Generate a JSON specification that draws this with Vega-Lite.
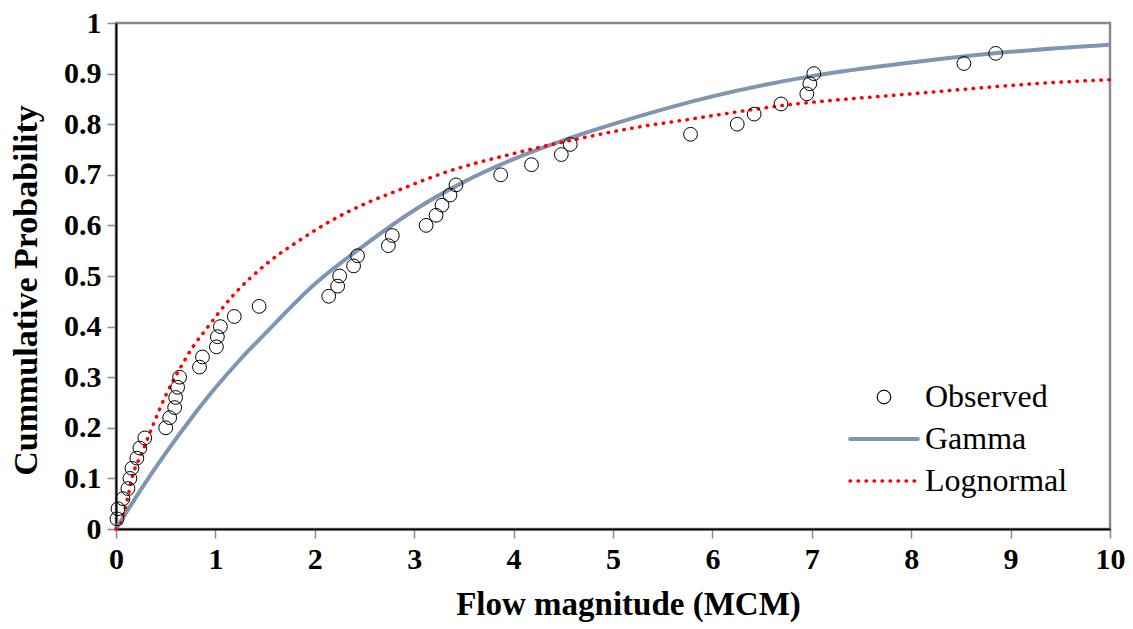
{
  "$schema": "https://vega.github.io/schema/vega-lite/v6.json",
  "width": 994,
  "height": 506,
  "autosize": {"type": "none"},
  "padding": {"left": 116, "top": 23, "right": 23, "bottom": 100},
  "background": "white",
  "config": {
    "view": {"stroke": "#8a8a8a", "strokeWidth": 2.5},
    "font": "Liberation Serif",
    "legend": {"labelFont": "Liberation Serif", "labelFontSize": 32, "labelColor": "black"}
  },
  "data": {
    "values": [
      {"series": "Observed", "x": 0.01, "y": 0.02},
      {"series": "Observed", "x": 0.02, "y": 0.04},
      {"series": "Observed", "x": 0.07, "y": 0.06},
      {"series": "Observed", "x": 0.12, "y": 0.08},
      {"series": "Observed", "x": 0.14, "y": 0.10},
      {"series": "Observed", "x": 0.16, "y": 0.12},
      {"series": "Observed", "x": 0.21, "y": 0.14},
      {"series": "Observed", "x": 0.24, "y": 0.16},
      {"series": "Observed", "x": 0.29, "y": 0.18},
      {"series": "Observed", "x": 0.50, "y": 0.20},
      {"series": "Observed", "x": 0.54, "y": 0.22},
      {"series": "Observed", "x": 0.59, "y": 0.24},
      {"series": "Observed", "x": 0.60, "y": 0.26},
      {"series": "Observed", "x": 0.62, "y": 0.28},
      {"series": "Observed", "x": 0.64, "y": 0.30},
      {"series": "Observed", "x": 0.84, "y": 0.32},
      {"series": "Observed", "x": 0.87, "y": 0.34},
      {"series": "Observed", "x": 1.01, "y": 0.36},
      {"series": "Observed", "x": 1.02, "y": 0.38},
      {"series": "Observed", "x": 1.05, "y": 0.40},
      {"series": "Observed", "x": 1.19, "y": 0.42},
      {"series": "Observed", "x": 1.44, "y": 0.44},
      {"series": "Observed", "x": 2.14, "y": 0.46},
      {"series": "Observed", "x": 2.23, "y": 0.48},
      {"series": "Observed", "x": 2.25, "y": 0.50},
      {"series": "Observed", "x": 2.39, "y": 0.52},
      {"series": "Observed", "x": 2.43, "y": 0.54},
      {"series": "Observed", "x": 2.74, "y": 0.56},
      {"series": "Observed", "x": 2.78, "y": 0.58},
      {"series": "Observed", "x": 3.12, "y": 0.60},
      {"series": "Observed", "x": 3.22, "y": 0.62},
      {"series": "Observed", "x": 3.28, "y": 0.64},
      {"series": "Observed", "x": 3.36, "y": 0.66},
      {"series": "Observed", "x": 3.42, "y": 0.68},
      {"series": "Observed", "x": 3.87, "y": 0.70},
      {"series": "Observed", "x": 4.18, "y": 0.72},
      {"series": "Observed", "x": 4.48, "y": 0.74},
      {"series": "Observed", "x": 4.57, "y": 0.76},
      {"series": "Observed", "x": 5.78, "y": 0.78},
      {"series": "Observed", "x": 6.25, "y": 0.80},
      {"series": "Observed", "x": 6.42, "y": 0.82},
      {"series": "Observed", "x": 6.69, "y": 0.84},
      {"series": "Observed", "x": 6.95, "y": 0.86},
      {"series": "Observed", "x": 6.98, "y": 0.88},
      {"series": "Observed", "x": 7.02, "y": 0.90},
      {"series": "Observed", "x": 8.53, "y": 0.92},
      {"series": "Observed", "x": 8.85, "y": 0.94},

      {"series": "Gamma", "x": 0, "y": 0},
      {"series": "Gamma", "x": 0.25, "y": 0.078},
      {"series": "Gamma", "x": 0.5, "y": 0.150},
      {"series": "Gamma", "x": 0.75, "y": 0.217},
      {"series": "Gamma", "x": 1, "y": 0.279},
      {"series": "Gamma", "x": 1.25, "y": 0.335},
      {"series": "Gamma", "x": 1.5, "y": 0.386},
      {"series": "Gamma", "x": 2, "y": 0.484},
      {"series": "Gamma", "x": 2.5, "y": 0.561},
      {"series": "Gamma", "x": 3, "y": 0.630},
      {"series": "Gamma", "x": 3.5, "y": 0.686},
      {"series": "Gamma", "x": 4, "y": 0.731},
      {"series": "Gamma", "x": 4.5, "y": 0.768},
      {"series": "Gamma", "x": 5, "y": 0.80},
      {"series": "Gamma", "x": 6, "y": 0.855},
      {"series": "Gamma", "x": 7, "y": 0.895},
      {"series": "Gamma", "x": 8, "y": 0.922},
      {"series": "Gamma", "x": 9, "y": 0.943},
      {"series": "Gamma", "x": 10, "y": 0.957},

      {"series": "Lognormal", "x": 0, "y": 0},
      {"series": "Lognormal", "x": 0.05, "y": 0.012},
      {"series": "Lognormal", "x": 0.074, "y": 0.028},
      {"series": "Lognormal", "x": 0.114, "y": 0.058},
      {"series": "Lognormal", "x": 0.164, "y": 0.103},
      {"series": "Lognormal", "x": 0.26, "y": 0.15},
      {"series": "Lognormal", "x": 0.38, "y": 0.209},
      {"series": "Lognormal", "x": 0.51, "y": 0.268},
      {"series": "Lognormal", "x": 0.66, "y": 0.323},
      {"series": "Lognormal", "x": 0.78, "y": 0.362},
      {"series": "Lognormal", "x": 0.88, "y": 0.388},
      {"series": "Lognormal", "x": 1.18, "y": 0.462},
      {"series": "Lognormal", "x": 1.52, "y": 0.525},
      {"series": "Lognormal", "x": 1.85, "y": 0.571},
      {"series": "Lognormal", "x": 2.19, "y": 0.612},
      {"series": "Lognormal", "x": 2.52, "y": 0.644},
      {"series": "Lognormal", "x": 2.81, "y": 0.667},
      {"series": "Lognormal", "x": 3.33, "y": 0.706},
      {"series": "Lognormal", "x": 4.0, "y": 0.742},
      {"series": "Lognormal", "x": 4.67, "y": 0.772},
      {"series": "Lognormal", "x": 5.37, "y": 0.798},
      {"series": "Lognormal", "x": 5.61, "y": 0.805},
      {"series": "Lognormal", "x": 6.71, "y": 0.837},
      {"series": "Lognormal", "x": 8.06, "y": 0.861},
      {"series": "Lognormal", "x": 9.4, "y": 0.882},
      {"series": "Lognormal", "x": 10, "y": 0.888}
    ]
  },
  "encoding": {
    "x": {
      "field": "x", "type": "quantitative",
      "scale": {"domain": [0, 10], "nice": false},
      "axis": {
        "title": "Flow magnitude (MCM)",
        "values": [0, 1, 2, 3, 4, 5, 6, 7, 8, 9, 10],
        "format": "d",
        "grid": false,
        "domainColor": "black", "domainWidth": 2,
        "tickColor": "#8a8a8a", "tickSize": 9, "tickWidth": 1.5,
        "labelFont": "Liberation Serif", "labelFontSize": 30, "labelFontWeight": "bold", "labelColor": "black",
        "labelPadding": 6, "labelFlush": false, "labelOverlap": false,
        "titleFont": "Liberation Serif", "titleFontSize": 33, "titleFontWeight": "bold", "titleColor": "black",
        "titleX": 512, "titleY": 85, "titleBaseline": "alphabetic", "titleAlign": "center"
      }
    },
    "y": {
      "field": "y", "type": "quantitative",
      "scale": {"domain": [0, 1], "nice": false},
      "axis": {
        "title": "Cummulative Probability",
        "values": [0, 0.1, 0.2, 0.3, 0.4, 0.5, 0.6, 0.7, 0.8, 0.9, 1],
        "format": ".1~f",
        "grid": false,
        "domainColor": "black", "domainWidth": 2,
        "tickColor": "#8a8a8a", "tickSize": 9, "tickWidth": 1.5,
        "labelFont": "Liberation Serif", "labelFontSize": 30, "labelFontWeight": "bold", "labelColor": "black",
        "labelPadding": 6, "labelFlush": false, "labelOverlap": false,
        "titleFont": "Liberation Serif", "titleFontSize": 34, "titleFontWeight": "bold", "titleColor": "black",
        "titleX": -90, "titleY": 267, "titleBaseline": "middle", "titleAlign": "center", "titleAngle": -90
      }
    },
    "color": {
      "field": "series", "type": "nominal",
      "scale": {"domain": ["Observed", "Gamma", "Lognormal"], "range": ["black", "#7F95B1", "#FF0000"]},
      "legend": {
        "title": null,
        "orient": "none",
        "legendX": 752,
        "legendY": 358,
        "padding": 0,
        "labelFont": "Liberation Serif",
        "labelFontSize": 32,
        "labelColor": "black",
        "labelOffset": 25,
        "rowPadding": 10,
        "encode": {
          "labels": {
            "update": {
              "font": {"value": "Liberation Serif"},
              "fontSize": {"value": 32},
              "fill": {"value": "black"}
            }
          },
          "symbols": {
            "update": {
              "shape": {"signal": "datum.value === 'Observed' ? 'circle' : 'stroke'"},
              "size": {"signal": "datum.value === 'Observed' ? 180 : 4600"},
              "strokeDash": {"signal": "datum.value === 'Lognormal' ? [0.5, 7.5] : [1, 0]"},
              "strokeWidth": {"signal": "datum.value === 'Observed' ? 1 : (datum.value === 'Gamma' ? 4 : 3.5)"},
              "strokeCap": {"value": "round"},
              "fill": {"value": "transparent"},
              "opacity": {"value": 1}
            }
          }
        }
      }
    }
  },
  "layer": [
    {
      "transform": [{"filter": "datum.series === 'Gamma'"}],
      "mark": {"type": "line", "strokeWidth": 4, "interpolate": "monotone"}
    },
    {
      "transform": [{"filter": "datum.series === 'Lognormal'"}],
      "mark": {"type": "line", "strokeWidth": 3.5, "strokeDash": [0.5, 7.5], "strokeCap": "round", "interpolate": "monotone"}
    },
    {
      "transform": [{"filter": "datum.series === 'Observed'"}],
      "mark": {"type": "point", "filled": false, "size": 190, "strokeWidth": 1, "opacity": 1}
    }
  ]
}
